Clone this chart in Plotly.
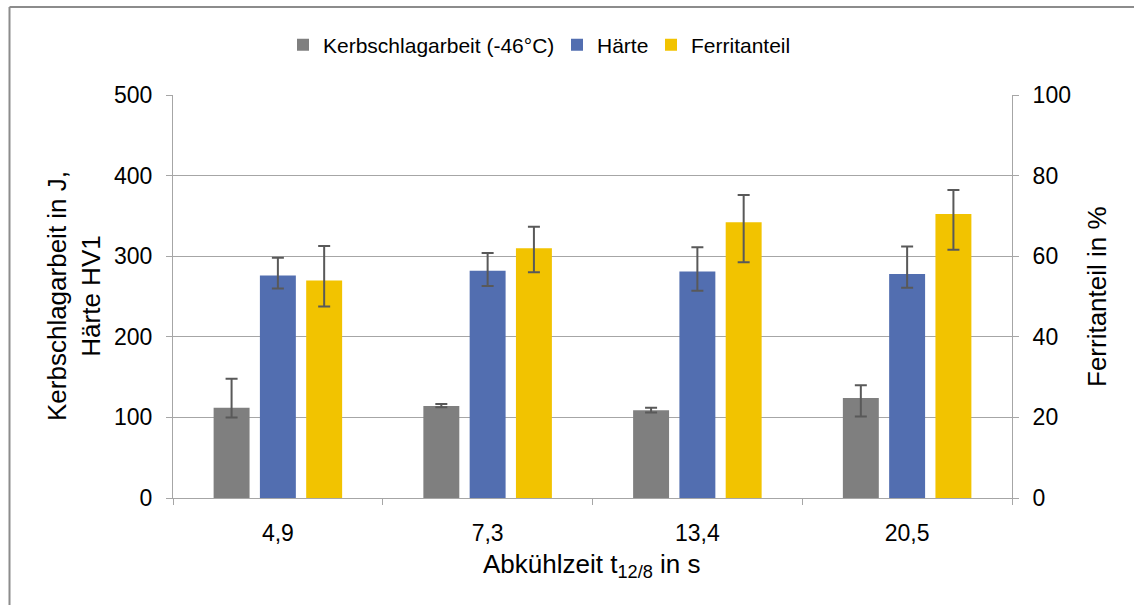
import plotly.graph_objects as go
from plotly.subplots import make_subplots

# Cooling time categories t12/8 in s
categories = ["4,9", "7,3", "13,4", "20,5"]

# Impact energy at -46 °C in J (mean, upper and lower deviation)
kerbschlag = [112, 114, 109, 124]
kerbschlag_plus = [36, 2.5, 3, 16]
kerbschlag_minus = [12, 1.5, 3, 23]

# Hardness HV1
haerte = [276, 282, 281, 278]
haerte_plus = [22, 22, 30, 34]
haerte_minus = [16, 19, 24, 17]

# Ferrite content in %
ferrit = [54, 62, 68.4, 70.5]
ferrit_plus = [8.5, 5.3, 6.8, 5.9]
ferrit_minus = [6.5, 6, 9.9, 8.9]

W, H = 1134, 605
ML, MR, MT, MB = 173, 122, 95, 107
PW, PH = W - ML - MR, H - MT - MB


def px_x(px):
    return (px - ML) / PW


def px_y(py):
    return (H - MB - py) / PH


FONT = "Liberation Sans, Arial, sans-serif"
TXT = "#000000"
GRID = "#A6A6A6"
ERR = "#595959"

bar_w = 0.1714
slot = 0.2207
err_style = dict(type="data", symmetric=False, color=ERR, thickness=2, width=6)

fig = make_subplots(specs=[[{"secondary_y": True}]])

fig.add_trace(go.Bar(
    x=categories, y=kerbschlag, name="Kerbschlagarbeit (-46°C)",
    marker=dict(color="#7F7F7F", line=dict(width=0)),
    width=bar_w, offset=-bar_w / 2 - slot, legend="legend",
    error_y=dict(array=kerbschlag_plus, arrayminus=kerbschlag_minus, **err_style),
), secondary_y=False)

fig.add_trace(go.Bar(
    x=categories, y=haerte, name="Härte",
    marker=dict(color="#526EB0", line=dict(width=0)),
    width=bar_w, offset=-bar_w / 2, legend="legend2",
    error_y=dict(array=haerte_plus, arrayminus=haerte_minus, **err_style),
), secondary_y=False)

fig.add_trace(go.Bar(
    x=categories, y=ferrit, name="Ferritanteil",
    marker=dict(color="#F2C300", line=dict(width=0)),
    width=bar_w, offset=-bar_w / 2 + slot, legend="legend3",
    error_y=dict(array=ferrit_plus, arrayminus=ferrit_minus, **err_style),
), secondary_y=True)


def legend_at(px):
    return dict(
        orientation="h", x=px_x(px), xanchor="left", y=px_y(45), yanchor="middle",
        font=dict(size=21, color=TXT), bgcolor="rgba(0,0,0,0)",
    )


fig.update_layout(
    width=W, height=H,
    margin=dict(l=ML, r=MR, t=MT, b=MB, autoexpand=False),
    paper_bgcolor="white", plot_bgcolor="white",
    font=dict(family=FONT, size=21, color=TXT),
    barmode="overlay",
    showlegend=True,
    legend=legend_at(283),
    legend2=legend_at(557),
    legend3=legend_at(651),
)

fig.update_xaxes(
    type="category", range=[-0.5, 3.5], domain=[0, 1],
    showline=True, linecolor=GRID, linewidth=1,
    ticks="outside", tickson="boundaries", ticklen=6, tickcolor=GRID,
    ticklabelstandoff=14,
    showgrid=False, tickfont=dict(size=23, color=TXT),
    zeroline=False,
)

fig.update_yaxes(
    range=[0, 500], dtick=100, showline=True, linecolor=GRID, linewidth=1,
    ticks="outside", ticklen=6, tickcolor=GRID, ticklabelstandoff=9,
    showgrid=True, gridcolor=GRID, gridwidth=1, zeroline=False,
    tickfont=dict(size=23, color=TXT),
    secondary_y=False,
)
fig.update_yaxes(
    range=[0, 100], dtick=20, showline=True, linecolor=GRID, linewidth=1,
    ticks="outside", ticklen=6, tickcolor=GRID, ticklabelstandoff=9,
    showgrid=False, zeroline=False,
    tickfont=dict(size=23, color=TXT),
    secondary_y=True,
)

# Axis titles
fig.add_annotation(
    text="Kerbschlagarbeit in J,<br>Härte HV1", textangle=-90,
    xref="paper", yref="paper", x=px_x(74), y=px_y(296), xanchor="center", yanchor="middle",
    showarrow=False, font=dict(size=26, color=TXT),
)
fig.add_annotation(
    text="Ferritanteil in %", textangle=-90,
    xref="paper", yref="paper", x=px_x(1097), y=px_y(297), xanchor="center", yanchor="middle",
    showarrow=False, font=dict(size=26, color=TXT),
)
fig.add_annotation(
    text="Abkühlzeit t<sub>12/8</sub> in s",
    xref="paper", yref="paper", x=px_x(592), y=px_y(565), xanchor="center", yanchor="middle",
    showarrow=False, font=dict(size=26, color=TXT),
)

# Chart frame (top and left edges)
frame = dict(color="#8C8C8C", width=2)
fig.add_shape(type="line", xref="paper", yref="paper",
              x0=px_x(9.5), x1=px_x(1134), y0=px_y(7), y1=px_y(7), line=frame)
fig.add_shape(type="line", xref="paper", yref="paper",
              x0=px_x(9.5), x1=px_x(9.5), y0=px_y(7), y1=px_y(605), line=frame)

fig.write_html("out.html")
